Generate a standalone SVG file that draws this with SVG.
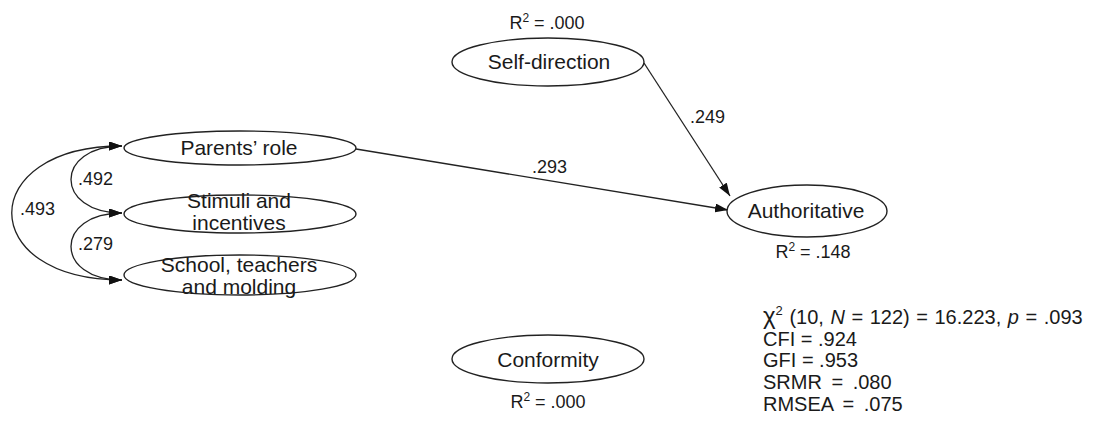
<svg xmlns="http://www.w3.org/2000/svg" width="1096" height="430" viewBox="0 0 1096 430">
<style>
text{font-family:"Liberation Sans",Arial,sans-serif;fill:#1a1a1a}
.node ellipse{fill:#fff;stroke:#222;stroke-width:1.4}
.lbl{font-size:21px;text-anchor:middle}
.coef{font-size:18px}
.r2{font-size:18px;text-anchor:middle}
.stat{font-size:20px}
.conn path{fill:none;stroke:#222;stroke-width:1.3}
</style>
<defs>
<marker id="ah" markerUnits="userSpaceOnUse" markerWidth="13" markerHeight="9" refX="13" refY="4.5" orient="auto-start-reverse" viewBox="0 0 13 9">
<path d="M0,0 L13,4.5 L0,9 z" fill="#111"/>
</marker>
</defs>
<rect width="1096" height="430" fill="#fff"/>
<g id="connectors" class="conn">
<path d="M356,149 L728,210" marker-end="url(#ah)"/>
<path d="M644,63 L730,196" marker-end="url(#ah)"/>
<path d="M122,146 C54,146 54,213 122,213" marker-start="url(#ah)" marker-end="url(#ah)"/>
<path d="M122,213 C54,213 54,280 122,280" marker-start="url(#ah)" marker-end="url(#ah)"/>
<path d="M122,146 C-25,146 -25,280 122,280" marker-start="url(#ah)" marker-end="url(#ah)"/>
</g>
<g id="coefficients">
<text class="coef" x="532" y="173">.293</text>
<text class="coef" x="690" y="123">.249</text>
<text class="coef" x="78" y="185">.492</text>
<text class="coef" x="20" y="215">.493</text>
<text class="coef" x="78" y="250">.279</text>
</g>
<g id="parents" class="node">
<ellipse cx="240" cy="148" rx="116" ry="17"/>
<text class="lbl" x="239" y="155">Parents’ role</text>
</g>
<g id="stimuli" class="node">
<ellipse cx="240" cy="214" rx="116" ry="19"/>
<text class="lbl" x="239" y="208">Stimuli and</text>
<text class="lbl" x="239" y="230">incentives</text>
</g>
<g id="school" class="node">
<ellipse cx="240" cy="275" rx="116" ry="20"/>
<text class="lbl" x="239" y="272">School, teachers</text>
<text class="lbl" x="239" y="294">and molding</text>
</g>
<g id="selfdirection" class="node">
<ellipse cx="548" cy="62" rx="96" ry="24"/>
<text class="lbl" x="549" y="69">Self-direction</text>
<text class="r2" x="547" y="29">R<tspan font-size="12" dy="-7">2</tspan><tspan dy="7"> = .000</tspan></text>
</g>
<g id="authoritative" class="node">
<ellipse cx="807" cy="211" rx="80" ry="26"/>
<text class="lbl" x="806" y="218">Authoritative</text>
<text class="r2" x="813" y="258">R<tspan font-size="12" dy="-7">2</tspan><tspan dy="7"> = .148</tspan></text>
</g>
<g id="conformity" class="node">
<ellipse cx="548" cy="359" rx="96" ry="24"/>
<text class="lbl" x="548" y="367">Conformity</text>
<text class="r2" x="548" y="408">R<tspan font-size="12" dy="-7">2</tspan><tspan dy="7"> = .000</tspan></text>
</g>
<g id="fit">
<text class="stat" x="763" y="324" word-spacing="1"><tspan font-size="24">χ</tspan><tspan font-size="13" dy="-9">2</tspan><tspan dy="9"> (10, </tspan><tspan font-style="italic">N</tspan> = 122) = 16.223, <tspan font-style="italic">p</tspan> = .093</text>
<text class="stat" x="763" y="346">CFI = .924</text>
<text class="stat" x="763" y="367">GFI = .953</text>
<text class="stat" x="763" y="389" word-spacing="4">SRMR = .080</text>
<text class="stat" x="763" y="411" word-spacing="4">RMSEA = .075</text>
</g>
</svg>
